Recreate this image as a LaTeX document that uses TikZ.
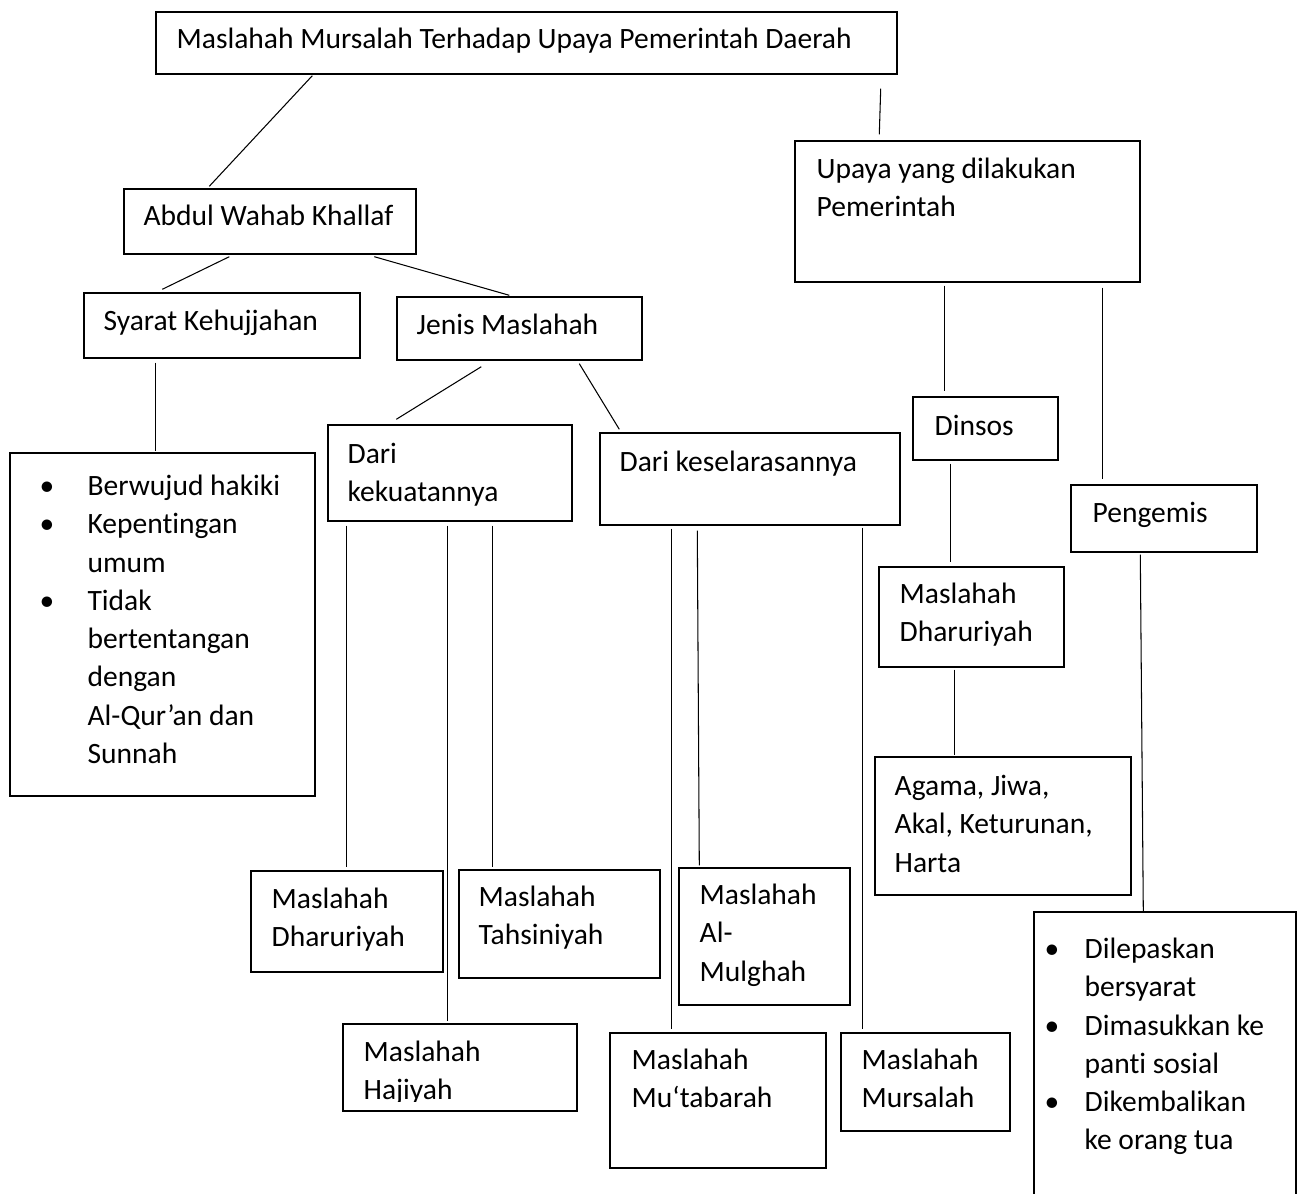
\documentclass[tikz,border=0pt]{standalone}
\usepackage{fontspec}
\setmainfont{Carlito}[Ligatures=NoCommon]
\usetikzlibrary{fit}
\tikzset{%
    kotak/.style={draw, line width=0.8pt, inner sep=0pt},
    isi/.style={anchor=north west, inner sep=0pt, align=left,
        font=\fontsize{16.8pt}{21.8pt}\selectfont},
    garis/.style={line width=0.6pt}
}

\begin{document}
\begin{tikzpicture}[x=0.02cm,y=-0.02cm]
\useasboundingbox (0,0) rectangle (1304,1193);
% kotak
\node[kotak, fit={(156,12) (897,74)}] (judul) {};
\node[kotak, fit={(124,189) (416,254)}] (abdul) {};
\node[kotak, fit={(84,293) (360,358)}] (syarat) {};
\node[kotak, fit={(397,297) (642,360)}] (jenis) {};
\node[kotak, fit={(795,141) (1140,282)}] (upaya) {};
\node[kotak, fit={(10,453) (315,796)}] (syaratisi) {};
\node[kotak, fit={(328,425) (572,521)}] (darikuat) {};
\node[kotak, fit={(600,433) (900,525)}] (dariselaras) {};
\node[kotak, fit={(913,397) (1058,460)}] (dinsos) {};
\node[kotak, fit={(1071,485) (1257,552)}] (pengemis) {};
\node[kotak, fit={(879,567) (1064,667)}] (dharurikanan) {};
\node[kotak, fit={(875,757) (1131,895)}] (agama) {};
\node[kotak, fit={(1034,912) (1296,1215)}] (pengemisisi) {};
\node[kotak, fit={(251,871) (443,972)}] (dharurikiri) {};
\node[kotak, fit={(459,870) (660,978)}] (tahsiniyah) {};
\node[kotak, fit={(343,1024) (577,1111)}] (hajiyah) {};
\node[kotak, fit={(679,868) (850,1005)}] (mulghah) {};
\node[kotak, fit={(610,1033) (826,1168)}] (mutabarah) {};
\node[kotak, fit={(841,1033) (1010,1131)}] (mursalah) {};

% tulisan
\node[isi] (judul-t) at ([shift={(21,10)}]judul.north west) {\strut Maslahah Mursalah Terhadap Upaya Pemerintah Daerah};
\node[isi] (abdul-t) at ([shift={(20,10)}]abdul.north west) {\strut Abdul Wahab Khallaf};
\node[isi] (syarat-t) at ([shift={(20,11)}]syarat.north west) {\strut Syarat Kehujjahan};
\node[isi] (jenis-t) at ([shift={(20,11)}]jenis.north west) {\strut Jenis Maslahah};
\node[isi] (upaya-t) at ([shift={(22,11)}]upaya.north west) {\strut Upaya yang dilakukan\\Pemerintah};
\node[isi] (syaratisi-t) at ([shift={(30,16)}]syaratisi.north west) {\strut\makebox[0.96cm][l]{\textbullet}Berwujud hakiki\\
  \makebox[0.96cm][l]{\textbullet}Kepentingan\\
  \hspace*{0.96cm}umum\\
  \makebox[0.96cm][l]{\textbullet}Tidak\\
  \hspace*{0.96cm}bertentangan\\
  \hspace*{0.96cm}dengan\\
  \hspace*{0.96cm}Al-Qur’an dan\\
  \hspace*{0.96cm}Sunnah};
\node[isi] (darikuat-t) at ([shift={(20,12)}]darikuat.north west) {\strut Dari\\kekuatannya};
\node[isi] (dariselaras-t) at ([shift={(20,12)}]dariselaras.north west) {\strut Dari keselarasannya};
\node[isi] (dinsos-t) at ([shift={(22,12)}]dinsos.north west) {\strut Dinsos};
\node[isi] (pengemis-t) at ([shift={(22,11)}]pengemis.north west) {\strut Pengemis};
\node[isi] (dharurikanan-t) at ([shift={(21,10)}]dharurikanan.north west) {\strut Maslahah\\Dharuriyah};
\node[isi] (agama-t) at ([shift={(20,12)}]agama.north west) {\strut Agama, Jiwa,\\Akal, Keturunan,\\Harta};
\node[isi] (pengemisisi-t) at ([shift={(11,20)}]pengemisisi.north west) {\strut\makebox[0.8cm][l]{\textbullet}Dilepaskan\\
  \hspace*{0.8cm}bersyarat\\
  \makebox[0.8cm][l]{\textbullet}Dimasukkan ke\\
  \hspace*{0.8cm}panti sosial\\
  \makebox[0.8cm][l]{\textbullet}Dikembalikan\\
  \hspace*{0.8cm}ke orang tua};
\node[isi] (dharurikiri-t) at ([shift={(21,11)}]dharurikiri.north west) {\strut Maslahah\\Dharuriyah};
\node[isi] (tahsiniyah-t) at ([shift={(20,10)}]tahsiniyah.north west) {\strut Maslahah\\Tahsiniyah};
\begin{scope}
  \clip (hajiyah.north west) rectangle ([shift={(0,-10)}]hajiyah.south east);
  \node[isi] (hajiyah-t) at ([shift={(21,11)}]hajiyah.north west) {\strut Maslahah\\Hajiyah};
\end{scope}
\node[isi] (mulghah-t) at ([shift={(21,10)}]mulghah.north west) {\strut Maslahah\\Al-\\Mulghah};
\node[isi] (mutabarah-t) at ([shift={(22,10)}]mutabarah.north west) {\strut Maslahah\\Mu‘tabarah};
\node[isi] (mursalah-t) at ([shift={(21,10)}]mursalah.north west) {\strut Maslahah\\Mursalah};

% garis penghubung
\draw[garis] ([shift={(157,1)}]judul.south west) -- ([shift={(86,-2)}]abdul.north west);
\draw[garis] ([shift={(-17,14)}]judul.south east) -- ([shift={(85,-6)}]upaya.north west);
\draw[garis] ([shift={(106,2)}]abdul.south west) -- ([shift={(79,-3)}]syarat.north west);
\draw[garis] ([shift={(251,2)}]abdul.south west) -- ([shift={(113,-1)}]jenis.north west);
\draw[garis] ([shift={(72,4)}]syarat.south west) -- ([shift={(146,-1)}]syaratisi.north west);
\draw[garis] ([shift={(85,6)}]jenis.south west) -- ([shift={(69,-5)}]darikuat.north west);
\draw[garis] ([shift={(183,3)}]jenis.south west) -- ([shift={(20,-3)}]dariselaras.north west);
\draw[garis] ([shift={(150,3)}]upaya.south west) -- ([shift={(32,-5)}]dinsos.north west);
\draw[garis] ([shift={(308,5)}]upaya.south west) -- ([shift={(32,-5)}]pengemis.north west);
\draw[garis] ([shift={(38,3)}]dinsos.south west) -- ([shift={(72,-4)}]dharurikanan.north west);
\draw[garis] ([shift={(76,2)}]dharurikanan.south west) -- ([shift={(80,-1)}]agama.north west);
\draw[garis] ([shift={(70,2)}]pengemis.south west) -- ([shift={(110,0)}]pengemisisi.north west);
\draw[garis] ([shift={(19,4)}]darikuat.south west) -- ([shift={(96,-3)}]dharurikiri.north west);
\draw[garis] ([shift={(120,4)}]darikuat.south west) -- ([shift={(105,-2)}]hajiyah.north west);
\draw[garis] ([shift={(165,4)}]darikuat.south west) -- ([shift={(34,-2)}]tahsiniyah.north west);
\draw[garis] ([shift={(72,3)}]dariselaras.south west) -- ([shift={(62,-3)}]mutabarah.north west);
\draw[garis] ([shift={(98,5)}]dariselaras.south west) -- ([shift={(21,-2)}]mulghah.north west);
\draw[garis] ([shift={(263,2)}]dariselaras.south west) -- ([shift={(22,-3)}]mursalah.north west);
\end{tikzpicture}
\end{document}
